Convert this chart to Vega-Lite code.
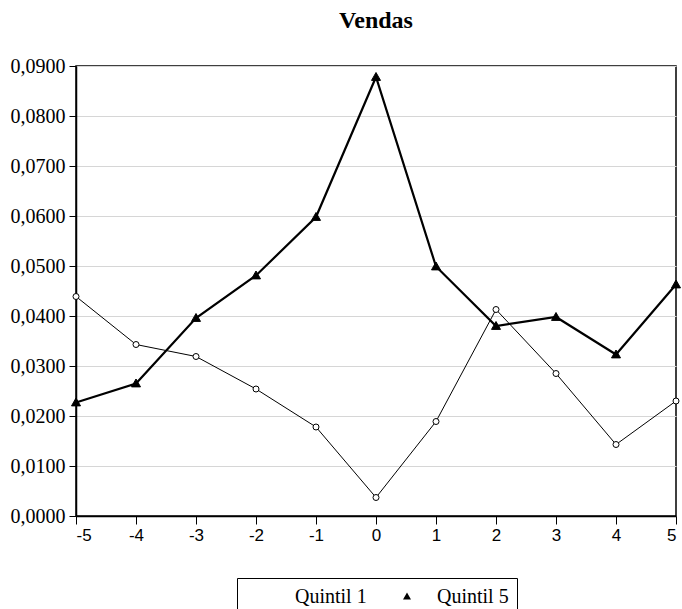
{
  "$schema": "https://vega.github.io/schema/vega-lite/v6.json",
  "width": 600,
  "height": 450,
  "padding": {"left": 10, "top": 9, "right": 6, "bottom": 0},
  "background": "white",
  "title": {
    "text": "Vendas",
    "font": "Liberation Serif",
    "fontSize": 24,
    "fontWeight": "bold",
    "color": "black",
    "offset": 23,
    "anchor": "middle"
  },
  "config": {
    "view": {"stroke": "black", "strokeWidth": 1.5},
    "axis": {
      "labelColor": "black",
      "domainColor": "black",
      "tickColor": "black",
      "title": null
    }
  },
  "data": {
    "values": [
      {"x": -5, "serie": "Quintil 1", "valor": 0.0439},
      {"x": -4, "serie": "Quintil 1", "valor": 0.0343},
      {"x": -3, "serie": "Quintil 1", "valor": 0.0319},
      {"x": -2, "serie": "Quintil 1", "valor": 0.0254},
      {"x": -1, "serie": "Quintil 1", "valor": 0.0178},
      {"x": 0, "serie": "Quintil 1", "valor": 0.0037},
      {"x": 1, "serie": "Quintil 1", "valor": 0.0189},
      {"x": 2, "serie": "Quintil 1", "valor": 0.0413},
      {"x": 3, "serie": "Quintil 1", "valor": 0.0285},
      {"x": 4, "serie": "Quintil 1", "valor": 0.0143},
      {"x": 5, "serie": "Quintil 1", "valor": 0.0230},
      {"x": -5, "serie": "Quintil 5", "valor": 0.0227},
      {"x": -4, "serie": "Quintil 5", "valor": 0.0265},
      {"x": -3, "serie": "Quintil 5", "valor": 0.0396},
      {"x": -2, "serie": "Quintil 5", "valor": 0.0481},
      {"x": -1, "serie": "Quintil 5", "valor": 0.0598},
      {"x": 0, "serie": "Quintil 5", "valor": 0.0878},
      {"x": 1, "serie": "Quintil 5", "valor": 0.0499},
      {"x": 2, "serie": "Quintil 5", "valor": 0.0380},
      {"x": 3, "serie": "Quintil 5", "valor": 0.0398},
      {"x": 4, "serie": "Quintil 5", "valor": 0.0323},
      {"x": 5, "serie": "Quintil 5", "valor": 0.0463}
    ]
  },
  "encoding": {
    "x": {
      "field": "x",
      "type": "quantitative",
      "scale": {"domain": [-5, 5], "nice": false, "zero": false},
      "axis": {
        "values": [-5, -4, -3, -2, -1, 0, 1, 2, 3, 4, 5],
        "labelExpr": "'' + datum.value",
        "labelFont": "Liberation Sans",
        "labelFontSize": 17,
        "grid": false,
        "tickSize": 8,
        "labelPadding": 3,
        "domainWidth": 1.5
      }
    },
    "y": {
      "field": "valor",
      "type": "quantitative",
      "scale": {"domain": [0, 0.09], "nice": false},
      "axis": {
        "values": [0, 0.01, 0.02, 0.03, 0.04, 0.05, 0.06, 0.07, 0.08, 0.09],
        "labelExpr": "replace(format(datum.value, '.4f'), '.', ',')",
        "labelFont": "Liberation Serif",
        "labelFontSize": 20,
        "grid": true,
        "gridColor": "#d6d6d6",
        "gridWidth": 1.2,
        "tickSize": 7,
        "labelPadding": 4,
        "domainWidth": 1.5
      }
    }
  },
  "layer": [
    {
      "transform": [{"filter": "datum.serie === 'Quintil 1'"}],
      "mark": {"type": "line", "color": "black", "strokeWidth": 1},
      "encoding": {}
    },
    {
      "transform": [{"filter": "datum.serie === 'Quintil 5'"}],
      "mark": {"type": "line", "color": "black", "strokeWidth": 2.2},
      "encoding": {}
    },
    {
      "transform": [{"filter": "datum.serie === 'Quintil 1'"}],
      "mark": {"type": "point", "shape": "circle", "filled": true, "fill": "white", "stroke": "black", "strokeWidth": 1, "size": 36, "opacity": 1},
      "encoding": {}
    },
    {
      "transform": [{"filter": "datum.serie === 'Quintil 5'"}],
      "mark": {"type": "point", "shape": "M0,-1L1,0.75L-1,0.75Z", "filled": true, "fill": "black", "stroke": "black", "strokeWidth": 1, "size": 81, "opacity": 1},
      "encoding": {}
    },
    {
      "transform": [{"filter": "datum.valor < 0"}],
      "mark": {"type": "point", "stroke": "black", "opacity": 1},
      "encoding": {
        "shape": {
          "field": "serie",
          "type": "nominal",
          "scale": {
            "domain": ["Quintil 1", "Quintil 5"],
            "range": [
              "M-2,0H-0.3M0.3,0H2M-0.3,0A0.3,0.3,0,1,0,0.3,0A0.3,0.3,0,1,0,-0.3,0Z",
              "M-2,0H2M0,-0.45L0.4,0.25L-0.4,0.25Z"
            ]
          },
          "legend": {
            "title": null,
            "orient": "none",
            "legendX": 161,
            "legendY": 512,
            "direction": "horizontal",
            "labelFont": "Liberation Serif",
            "labelFontSize": 20,
            "labelColor": "black",
            "strokeColor": "black",
            "fillColor": "white",
            "padding": 8,
            "columnPadding": 16,
            "symbolSize": 400,
            "symbolOffset": 10,
            "labelOffset": 19,
            "symbolStrokeColor": "black",
            "encode": {
              "symbols": {
                "update": {
                  "stroke": {"value": "black"},
                  "opacity": {"value": 1}
                }
              }
            }
          }
        },
        "fill": {
          "field": "serie",
          "type": "nominal",
          "scale": {"domain": ["Quintil 1", "Quintil 5"], "range": ["white", "black"]}
        },
        "strokeWidth": {
          "field": "serie",
          "type": "nominal",
          "scale": {"domain": ["Quintil 1", "Quintil 5"], "range": [1, 2]}
        }
      }
    }
  ]
}
